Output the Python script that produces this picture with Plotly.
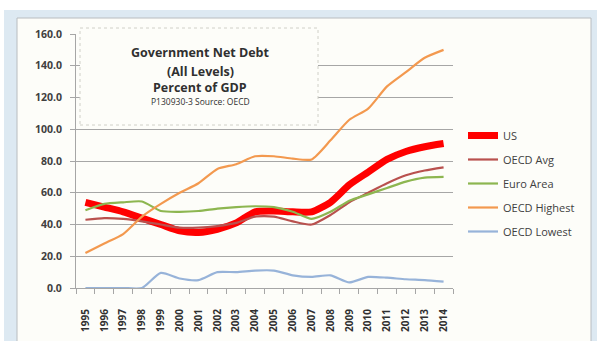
import plotly.graph_objects as go

years = [str(y) for y in range(1995, 2015)]
us = [54, 51, 48, 44, 40, 36, 35, 37, 41, 48, 48.5, 48, 48, 54, 65, 73, 81, 86, 89, 91]
oecd_avg = [43, 44, 43.5, 42, 40, 38, 38, 39, 41, 45, 45, 42, 40, 46, 54, 60, 66, 71, 74, 76]
euro_area = [49, 53, 54, 54.5, 48.5, 48, 48.5, 50, 51, 51.5, 51, 48, 43.5, 48, 55, 59, 63, 67, 69.5, 70]
oecd_high = [22, 28, 34, 45, 53, 60, 66, 75, 78, 83, 83, 81.5, 81, 93, 106, 113, 127, 136, 145, 150]
oecd_low = [0, 0, 0, 0, 9.5, 6, 5, 10, 10, 11, 11, 8, 7, 8, 3.5, 7, 6.5, 5.5, 5, 4]
ytick_vals = [0, 20, 40, 60, 80, 100, 120, 140, 160]
ytick_text = ["%.1f" % v for v in ytick_vals]

series = [
    ("US", us, "#ff0000", 7),
    ("OECD Avg", oecd_avg, "#b9514e", 2.2),
    ("Euro Area", euro_area, "#8db650", 2.2),
    ("OECD Highest", oecd_high, "#f3994f", 2.2),
    ("OECD Lowest", oecd_low, "#97b3d9", 2.2),
]

fig = go.Figure()
for i, (name, vals, col, w) in enumerate(series):
    fig.add_trace(go.Scatter(
        x=years, y=vals, name=name, mode="lines", legendgroup="g%d" % i,
        line=dict(color=col, width=w, shape="spline", smoothing=0.6),
    ))

L, R, T, B = 76, 453, 34, 288
W, H = 597, 341
pw, ph = R - L, B - T

def px(x):
    return (x - L) / pw

def py(y):
    return (B - y) / ph

shapes = [
    dict(type="rect", xref="paper", yref="paper", layer="below",
         x0=px(4), x1=px(597), y0=py(345), y1=py(10),
         fillcolor="#dde9f2", line=dict(width=0)),
    dict(type="rect", xref="paper", yref="paper", layer="below",
         x0=px(17), x1=px(591), y0=py(345), y1=py(18),
         fillcolor="#fdfdf9", line=dict(color="#b8bcc0", width=1)),
    dict(type="rect", xref="paper", yref="paper", layer="above",
         x0=px(80), x1=px(318), y0=py(125), y1=py(28),
         fillcolor="#fdfdf9", line=dict(color="#d0d0c8", width=1, dash="dot")),
]

font_fam = "Open Sans, Liberation Sans, sans-serif"
ann = []
for text, yp, size, bold in [
    ("Government Net Debt", 53, 12.5, True),
    ("(All Levels)", 71, 12.5, True),
    ("Percent of GDP", 88, 12.5, True),
    ("P130930-3 Source: OECD", 102, 8.5, False),
]:
    ann.append(dict(xref="paper", yref="paper", x=px(200), y=py(yp),
                    text=("<b>%s</b>" % text) if bold else text, showarrow=False,
                    xanchor="center", yanchor="middle",
                    font=dict(family=font_fam, size=size, color="#303030")))

fig.update_layout(
    width=W, height=H,
    margin=dict(l=L, r=W - R, t=T, b=H - B, pad=0, autoexpand=False),
    paper_bgcolor="white",
    plot_bgcolor="rgba(0,0,0,0)",
    shapes=shapes,
    annotations=ann,
    showlegend=True,
    legend=dict(x=px(463), y=py(121), xanchor="left", yanchor="top",
                bgcolor="rgba(0,0,0,0)", traceorder="grouped", tracegroupgap=5,
                font=dict(family=font_fam, size=11, color="#404040"),
                itemwidth=30),
    font=dict(family=font_fam, color="#404040"),
)
fig.update_yaxes(
    range=[0, 160], tickvals=ytick_vals, ticktext=["<b>%s</b>" % t for t in ytick_text],
    showgrid=True, gridcolor="#a6a6a6", gridwidth=1,
    showline=True, linecolor="#a6a6a6", linewidth=1,
    ticks="outside", ticklen=5, tickcolor="#a6a6a6",
    tickfont=dict(family=font_fam, size=10.5, color="#404040"),
    ticklabelstandoff=6, zeroline=False, fixedrange=True, automargin=False,
)
fig.update_xaxes(
    type="category", range=[-0.5, 19.5], showgrid=False,
    showline=True, linecolor="#a6a6a6", linewidth=1,
    ticks="outside", ticklen=5, tickcolor="#a6a6a6", tickson="boundaries",
    tickangle=-90, tickvals=years, ticktext=["<b>%s</b>" % y for y in years],
    tickfont=dict(family=font_fam, size=10, color="#303030"),
    ticklabelstandoff=16, fixedrange=True, automargin=False,
)

fig.write_html("out.html")
